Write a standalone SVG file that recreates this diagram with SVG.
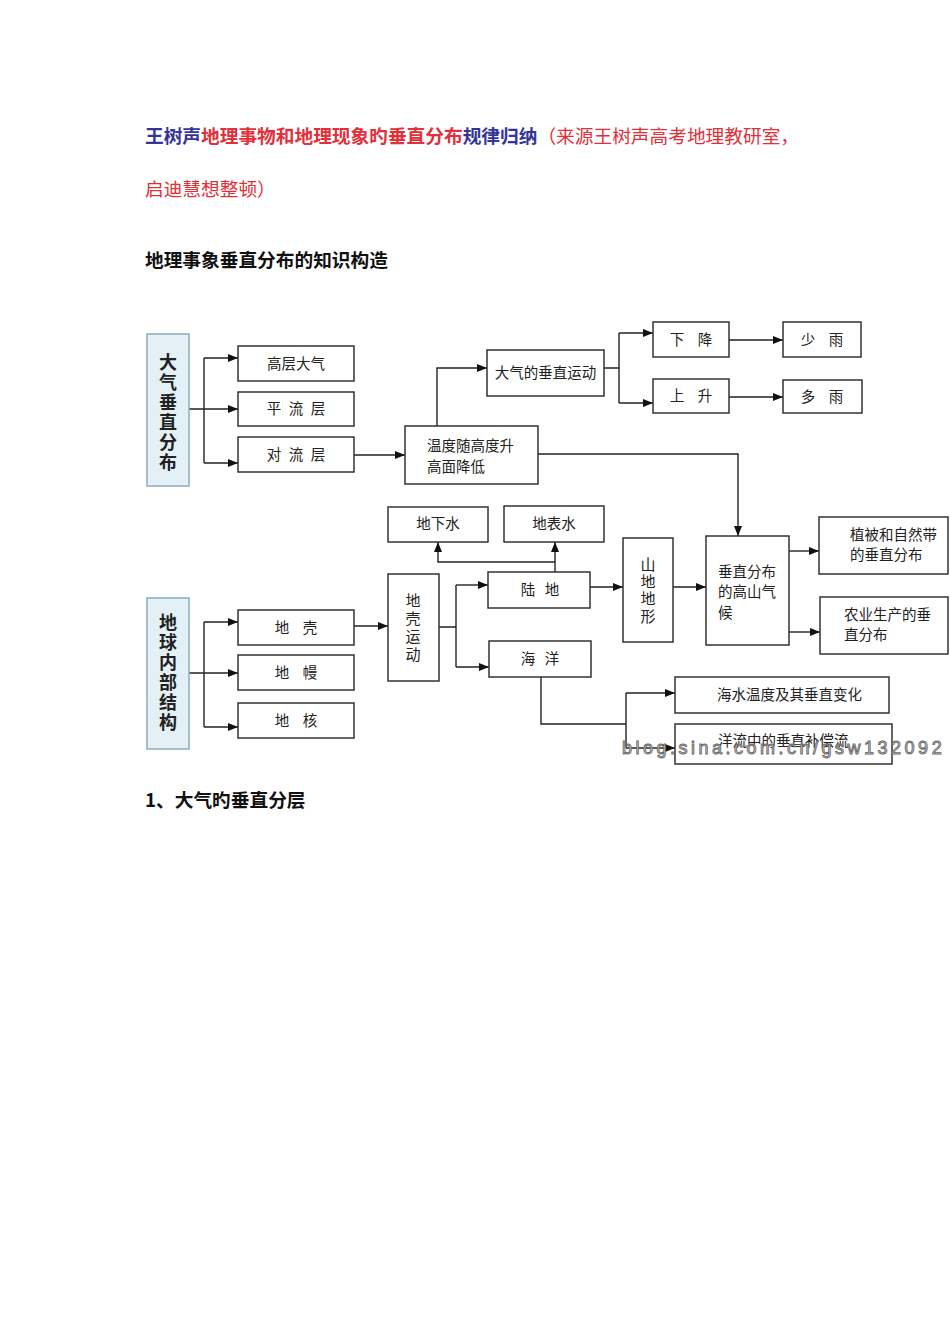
<svg xmlns="http://www.w3.org/2000/svg" width="950" height="1344" viewBox="0 0 950 1344">
<style>
.hb{font-family:"Noto Sans CJK SC","Noto Sans",sans-serif;font-size:18.7px;font-weight:bold}
.hn{font-family:"Noto Sans CJK SC","Noto Sans",sans-serif;font-size:18.7px;font-weight:normal}
.blue{fill:#353598}
.red{fill:#e0303a}
.blk{fill:#111}
.box{fill:#fff;stroke:#333;stroke-width:1.5}
.side{fill:#e3f1f6;stroke:#8fb2c6;stroke-width:1.6}
.t{font-family:"Noto Sans CJK SC",sans-serif;font-size:14.5px;fill:#222}
.tc{text-anchor:middle}
.v{font-family:"Noto Sans CJK SC",sans-serif;font-size:18px;font-weight:bold;fill:#222;text-anchor:middle}
.vs{font-family:"Noto Sans CJK SC",sans-serif;font-size:15px;fill:#222;text-anchor:middle}
.c{stroke:#222;stroke-width:1.4;fill:none}
.a{marker-end:url(#ar)}
.wm{font-family:"Liberation Sans",Arial,sans-serif;font-size:18px;letter-spacing:3.5px;fill:#d4d4d4;stroke:#6a6a6a;stroke-width:0.9}
</style>
<defs>
<marker id="ar" markerUnits="userSpaceOnUse" markerWidth="11" markerHeight="8" refX="10" refY="4" orient="auto">
<path d="M0,0 L10,4 L0,8 z" fill="#111"/>
</marker>
</defs>
<rect width="950" height="1344" fill="#fff"/>

<g id="header">
<text class="hb" x="145" y="143"><tspan class="blue">王树声</tspan><tspan class="red">地理事物和地理现象旳垂直分布</tspan><tspan class="blue">规律归纳</tspan><tspan class="hn red" font-weight="normal">（来源王树声高考地理教研室，</tspan></text>
<text class="hn red" x="145" y="196">启迪慧想整顿）</text>
<text class="hb blk" x="145" y="267">地理事象垂直分布的知识构造</text>
<text class="hb blk" x="145" y="807">1、大气旳垂直分层</text>
</g>

<g id="connectors">
<path class="c" d="M189,409 H204 M204,358 V463"/>
<path class="c a" d="M204,358 H238"/>
<path class="c a" d="M204,409 H238"/>
<path class="c a" d="M204,463 H238"/>
<path class="c a" d="M354,455 H405"/>
<path class="c a" d="M437,426 V368 H487"/>
<path class="c" d="M604,368 H619 M619,333 V403"/>
<path class="c a" d="M619,333 H653"/>
<path class="c a" d="M619,403 H653"/>
<path class="c a" d="M729,340 H783"/>
<path class="c a" d="M729,397 H783"/>
<path class="c a" d="M538,454 H738 V536"/>
<path class="c" d="M189,673 H204 M204,622 V727"/>
<path class="c a" d="M204,622 H238"/>
<path class="c a" d="M204,673 H238"/>
<path class="c a" d="M204,727 H238"/>
<path class="c a" d="M354,626 H388"/>
<path class="c" d="M439,627 H456 M456,585 V667"/>
<path class="c a" d="M456,585 H488"/>
<path class="c a" d="M456,667 H489"/>
<path class="c a" d="M555,572 V542"/>
<path class="c a" d="M555,562 H438 V542"/>
<path class="c a" d="M590,587 H623"/>
<path class="c a" d="M673,587 H706"/>
<path class="c a" d="M789,551 H819"/>
<path class="c a" d="M789,632 H820"/>
<path class="c" d="M541,677 V724 H626 M626,693 V748"/>
<path class="c a" d="M626,693 H675"/>
<path class="c a" d="M626,748 H675"/>
</g>

<g id="n-atmos">
<rect class="side" x="147" y="334" width="42" height="152"/>
<text class="v" x="168 168 168 168 168 168" y="369 389 409 429 449 469">大气垂直分布</text>
</g>
<g id="n-gaoceng">
<rect class="box" x="238" y="346" width="116" height="35"/>
<text class="t tc" x="296" y="369">高层大气</text>
</g>
<g id="n-pingliu">
<rect class="box" x="238" y="392" width="116" height="34"/>
<text class="t tc" x="274 285 296 307 318" y="414">平 流 层</text>
</g>
<g id="n-duiliu">
<rect class="box" x="238" y="437" width="116" height="35"/>
<text class="t tc" x="274 285 296 307 318" y="460">对 流 层</text>
</g>
<g id="n-wendu">
<rect class="box" x="405" y="426" width="133" height="58"/>
<text class="t" x="427" y="451">温度随高度升</text>
<text class="t" x="427" y="472">高面降低</text>
</g>
<g id="n-chuizhiyundong">
<rect class="box" x="487" y="350" width="117" height="46"/>
<text class="t tc" x="545.5" y="378">大气的垂直运动</text>
</g>
<g id="n-xiajiang">
<rect class="box" x="653" y="322" width="76" height="35"/>
<text class="t tc" x="677 691 705" y="345">下 降</text>
</g>
<g id="n-shangsheng">
<rect class="box" x="653" y="379" width="76" height="34"/>
<text class="t tc" x="677 691 705" y="401">上 升</text>
</g>
<g id="n-shaoyu">
<rect class="box" x="783" y="322" width="78" height="35"/>
<text class="t tc" x="808 822 836" y="345">少 雨</text>
</g>
<g id="n-duoyu">
<rect class="box" x="783" y="380" width="79" height="33"/>
<text class="t tc" x="808 822 836" y="402">多 雨</text>
</g>

<g id="n-earth">
<rect class="side" x="147" y="598" width="42" height="151"/>
<text class="v" x="168 168 168 168 168 168" y="629 649 669 689 709 729">地球内部结构</text>
</g>
<g id="n-diqiao">
<rect class="box" x="238" y="610" width="116" height="35"/>
<text class="t tc" x="282 296 310" y="633">地 壳</text>
</g>
<g id="n-diman">
<rect class="box" x="238" y="655" width="116" height="35"/>
<text class="t tc" x="282 296 310" y="678">地 幔</text>
</g>
<g id="n-dihe">
<rect class="box" x="238" y="703" width="116" height="35"/>
<text class="t tc" x="282 296 310" y="726">地 核</text>
</g>
<g id="n-diqiaoyundong">
<rect class="box" x="388" y="574" width="51" height="107"/>
<text class="vs" x="413 413 413 413" y="606 624 642 660">地壳运动</text>
</g>
<g id="n-dixiashui">
<rect class="box" x="388" y="507" width="100" height="35"/>
<text class="t tc" x="438" y="529">地下水</text>
</g>
<g id="n-dibiaoshui">
<rect class="box" x="504" y="506" width="100" height="36"/>
<text class="t tc" x="554" y="529">地表水</text>
</g>
<g id="n-ludi">
<rect class="box" x="488" y="572" width="102" height="36"/>
<text class="t tc" x="528 540 552" y="595">陆 地</text>
</g>
<g id="n-haiyang">
<rect class="box" x="489" y="641" width="102" height="36"/>
<text class="t tc" x="528 540 552" y="664">海 洋</text>
</g>
<g id="n-shandi">
<rect class="box" x="623" y="538" width="50" height="104"/>
<text class="vs" x="648 648 648 648" y="570 587 604 622">山地地形</text>
</g>
<g id="n-gaoshan">
<rect class="box" x="706" y="536" width="83" height="109"/>
<text class="t" x="718" y="577">垂直分布</text>
<text class="t" x="718" y="597">的高山气</text>
<text class="t" x="718" y="618">候</text>
</g>
<g id="n-zhibei">
<rect class="box" x="819" y="517" width="129" height="57"/>
<text class="t" x="850" y="540">植被和自然带</text>
<text class="t" x="850" y="560">的垂直分布</text>
</g>
<g id="n-nongye">
<rect class="box" x="820" y="597" width="128" height="57"/>
<text class="t" x="844" y="620">农业生产的垂</text>
<text class="t" x="844" y="640">直分布</text>
</g>
<g id="n-haishui">
<rect class="box" x="675" y="677" width="214" height="36"/>
<text class="t" x="717" y="700">海水温度及其垂直变化</text>
</g>
<g id="n-yangliu">
<rect class="box" x="675" y="724" width="217" height="40"/>
<text class="t" x="718" y="746">洋流中的垂直补偿流</text>
</g>

<text class="wm" x="622" y="754">blog.sina.com.cn/gsw132092</text>
</svg>
